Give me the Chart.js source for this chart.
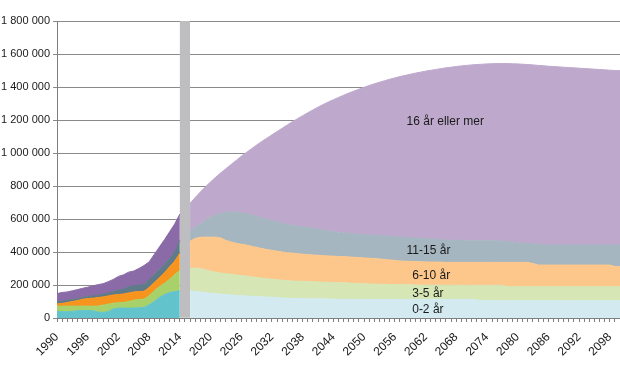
<!DOCTYPE html>
<html>
<head>
<meta charset="utf-8">
<script src="https://cdn.jsdelivr.net/npm/chart.js@4.4.1/dist/chart.umd.min.js"></script>
<style>
  html, body { margin: 0; padding: 0; background: #fff; }
  #wrap { width: 620px; height: 370px; }
</style>
</head>
<body>
<div id="wrap"><canvas id="chart" width="620" height="370"></canvas></div>
<script>
// år 1990-2100
const years = [];
for (let y = 1990; y <= 2100; y++) years.push(String(y));

const bandLabels = ["0-2 år", "3-5 år", "6-10 år", "11-15 år", "16 år eller mer"];

// registrerte tall 1990-2014
const hist02 = [40000, 38000, 38000, 40000, 44000, 46000, 46000, 44000, 36000, 34000, 38000, 55000, 60000, 60000, 60000, 60000, 62000, 64000, 80000, 100000, 125000, 142000, 155000, 160000, 165000];
const hist35 = [32000, 34000, 34000, 32000, 28000, 26000, 26000, 28000, 36000, 44000, 46000, 35000, 32000, 34000, 40000, 48000, 50000, 50000, 55000, 65000, 65000, 68000, 80000, 102000, 125000];
const hist610 = [14000, 16000, 22000, 28000, 34000, 42000, 46000, 48000, 52000, 50000, 50000, 50000, 50000, 52000, 52000, 50000, 48000, 48000, 50000, 50000, 55000, 65000, 75000, 83000, 102000];
const hist1115 = [12000, 14000, 14000, 12000, 12000, 10000, 12000, 14000, 14000, 16000, 18000, 20000, 26000, 30000, 38000, 38000, 38000, 43000, 45000, 50000, 50000, 50000, 50000, 55000, 78000];
const hist16 = [50000, 53000, 50000, 53000, 54000, 56000, 57000, 61000, 64000, 64000, 68000, 74000, 84000, 86000, 88000, 89000, 102000, 113000, 110000, 120000, 135000, 150000, 162000, 170000, 160000];

// framskrivning 2016-2100
const proj02 = [164000, 161000, 158000, 154000, 150000, 147000, 145000, 142000, 139000, 137000, 135000, 133000, 131000, 130000, 129000, 127000, 125000, 123000, 121000, 119000,
  119000, 118000, 118000, 117000, 117000, 116000, 116000, 115000, 114000, 113000, 113000, 113000, 113000, 113000, 112000, 112000, 112000, 112000, 112000, 112000,
  112000, 113000, 113000, 113000, 113000, 113000, 113000, 113000, 113000, 113000, 113000, 113000, 113000, 113000, 113000, 113000, 108000, 106000, 105000, 105000,
  105000, 105000, 105000, 105000, 105000, 105000, 105000, 105000, 105000, 105000, 105000, 105000, 105000, 105000, 105000, 105000, 105000, 105000, 105000, 105000,
  105000, 105000, 105000, 105000, 105000];
const proj35 = [137000, 141000, 142000, 138000, 133000, 130000, 127000, 126000, 126000, 124000, 122000, 121000, 119000, 115000, 112000, 111000, 110000, 109000, 108000, 107000,
  105000, 105000, 104000, 104000, 103000, 102000, 101000, 101000, 101000, 101000, 100000, 99000, 97000, 95000, 95000, 94000, 93000, 92000, 92000, 91000,
  90000, 89000, 88000, 88000, 87000, 87000, 86000, 86000, 86000, 86000, 86000, 86000, 85000, 85000, 85000, 85000, 90000, 92000, 93000, 93000,
  93000, 93000, 85000, 85000, 85000, 85000, 85000, 85000, 85000, 85000, 85000, 85000, 85000, 85000, 85000, 85000, 85000, 85000, 85000, 85000,
  85000, 85000, 85000, 85000, 85000];
const proj610 = [164000, 180000, 189000, 198000, 207000, 213000, 213000, 202000, 195000, 192000, 190000, 188000, 185000, 183000, 180000, 177000, 175000, 173000, 171000, 170000,
  169000, 167000, 165000, 163000, 162000, 162000, 161000, 160000, 160000, 159000, 159000, 158000, 158000, 158000, 157000, 156000, 155000, 154000, 151000, 149000,
  147000, 144000, 143000, 142000, 142000, 141000, 141000, 140000, 140000, 139000, 138000, 138000, 139000, 139000, 139000, 139000, 139000, 139000, 139000, 139000,
  139000, 139000, 147000, 147000, 147000, 147000, 147000, 140000, 131000, 131000, 131000, 131000, 131000, 131000, 131000, 131000, 131000, 131000, 131000, 131000,
  131000, 131000, 131000, 122000, 121000];
const proj1115 = [65000, 68000, 81000, 100000, 120000, 135000, 150000, 171000, 183000, 188000, 190000, 190000, 189000, 187000, 185000, 183000, 180000, 177000, 174000, 171000,
  169000, 167000, 165000, 164000, 162000, 158000, 154000, 152000, 149000, 147000, 144000, 143000, 142000, 141000, 141000, 141000, 141000, 141000, 142000, 143000,
  144000, 145000, 145000, 144000, 143000, 142000, 141000, 140000, 138000, 137000, 136000, 134000, 133000, 132000, 131000, 131000, 131000, 131000, 131000, 131000,
  131000, 128000, 125000, 122000, 119000, 117000, 115000, 119000, 125000, 123000, 122000, 121000, 121000, 121000, 121000, 121000, 121000, 121000, 121000, 121000,
  121000, 121000, 121000, 130000, 131000];
const proj16 = [165000, 180000, 193000, 205000, 215000, 228000, 245000, 264000, 287000, 314000, 343000, 371000, 402000, 433000, 464000, 492000, 520000, 548000, 576000, 603000,
  628000, 651000, 674000, 696000, 717000, 740000, 762000, 781000, 799000, 817000, 834000, 850000, 865000, 880000, 893000, 906000, 918000, 930000, 941000, 952000,
  962000, 972000, 981000, 990000, 999000, 1007000, 1015000, 1022000, 1029000, 1036000, 1043000, 1049000, 1054000, 1059000, 1063000, 1066000, 1068000, 1070000, 1072000, 1073000,
  1074000, 1077000, 1080000, 1082000, 1084000, 1084000, 1084000, 1085000, 1085000, 1085000, 1083000, 1082000, 1080000, 1078000, 1076000, 1074000, 1072000, 1070000, 1068000, 1066000,
  1064000, 1062000, 1060000, 1058000, 1057000];

// grå skillelinje mellom registrert og framskrevet
const skilleAar = "2015";
const skilleVerdi = 1800000;

const histColors = ["#63c3cc", "#a9d16a", "#f7941e", "#5f7a88", "#8b6ba7"];
const projColors = ["#d3ebf0", "#d6e6b5", "#fdc78c", "#a5b6c0", "#bea9cd"];

const histSeries = [hist02, hist35, hist610, hist1115, hist16];
const projSeries = [proj02, proj35, proj610, proj1115, proj16];

const datasets = [];
histSeries.forEach((vals, i) => {
  datasets.push({
    type: "line",
    label: bandLabels[i],
    data: vals.concat(Array(years.length - vals.length).fill(null)),
    stack: "hist",
    fill: i === 0 ? "origin" : "-1",
    backgroundColor: histColors[i],
    borderColor: histColors[i],
    borderWidth: 1,
    pointRadius: 0,
    tension: 0,
  });
});
projSeries.forEach((vals, i) => {
  datasets.push({
    type: "line",
    label: bandLabels[i],
    data: Array(years.length - vals.length).fill(null).concat(vals),
    stack: "proj",
    fill: i === 0 ? "origin" : "-1",
    backgroundColor: projColors[i],
    borderColor: projColors[i],
    borderWidth: 1,
    pointRadius: 0,
    tension: 0,
  });
});
datasets.push({
  type: "bar",
  label: "skille",
  data: years.map((y) => (y === skilleAar ? skilleVerdi : null)),
  stack: "skille",
  backgroundColor: "#bebec1",
  barThickness: 9.5,
});

// plassering av tekstene inne i flatene [årsindeks, verdi]
const labelAt = [
  [69.4, 48000],
  [69.4, 150000],
  [69.4, 255000],
  [68.3, 406000],
  [68.3, 1190000],
];

const bandLabelPlugin = {
  id: "bandLabels",
  afterDatasetsDraw(chart) {
    const { ctx, scales } = chart;
    ctx.save();
    ctx.font = '12px "Liberation Sans", Arial, sans-serif';
    ctx.fillStyle = "#1a1a1a";
    ctx.textBaseline = "middle";
    ctx.textAlign = "left";
    bandLabels.forEach((t, i) => {
      ctx.fillText(t, scales.x.getPixelForValue(labelAt[i][0]), scales.y.getPixelForValue(labelAt[i][1]));
    });
    ctx.restore();
  },
};

function fmt(v) {
  return String(v).replace(/\B(?=(\d{3})+(?!\d))/g, " ");
}

Chart.defaults.font.family = '"Liberation Sans", Arial, sans-serif';
Chart.defaults.font.size = 11;
Chart.defaults.color = "#1a1a1a";

new Chart(document.getElementById("chart"), {
  type: "line",
  data: { labels: years, datasets: datasets },
  plugins: [bandLabelPlugin],
  options: {
    responsive: false,
    animation: false,
    layout: { padding: { top: 21, right: 0, left: 0, bottom: 0 } },
    plugins: { legend: { display: false }, tooltip: { enabled: false } },
    scales: {
      x: {
        type: "category",
        offset: false,
        grid: { offset: false, drawOnChartArea: false, tickLength: 4, color: "#7f7f7f" },
        border: { color: "#7f7f7f" },
        ticks: {
          autoSkip: false,
          maxRotation: 45,
          minRotation: 45,
          padding: 8,
          font: { size: 12 },
          callback: (v, i) => (i % 6 === 0 ? years[i] : ""),
        },
        afterFit: (s) => {
          s.height = 52;
          s.paddingLeft = 0;
          s.paddingRight = 0;
        },
      },
      y: {
        stacked: true,
        min: 0,
        max: 1800000,
        ticks: { stepSize: 200000, padding: 3, callback: (v) => fmt(v) },
        grid: { color: "#8a8a8a", tickLength: 4 },
        border: { color: "#7f7f7f" },
        afterFit: (s) => {
          s.width = 57;
          s.paddingTop = 0;
          s.paddingBottom = 0;
        },
      },
    },
  },
});
</script>
</body>
</html>
